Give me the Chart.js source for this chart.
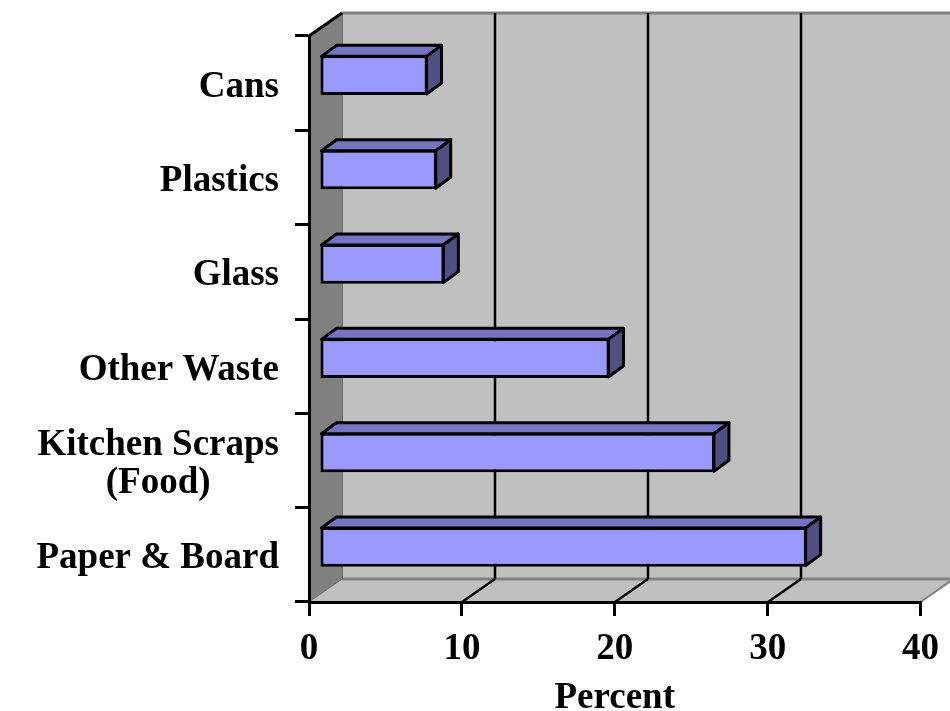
<!DOCTYPE html>
<html>
<head>
<meta charset="utf-8">
<script src="https://cdn.jsdelivr.net/npm/chart.js@4/dist/chart.umd.min.js"></script>
<style>
  html, body { margin: 0; padding: 0; background: #ffffff; }
  #wrap { width: 950px; height: 711px; }
</style>
</head>
<body>
<div id="wrap"><canvas id="c" width="950" height="711"></canvas></div>
<script>
// ---- data ----
const categories = ['Cans', 'Plastics', 'Glass', 'Other Waste', ['Kitchen Scraps', '(Food)'], 'Paper & Board'];
const percentValues = [7.1, 7.7, 8.2, 19.0, 25.9, 31.9];
const xTickValues = [0, 10, 20, 30, 40];
const xAxisTitle = 'Percent';

// ---- 3D look ----
const FONT = '"Liberation Serif", "Times New Roman", serif';
const WALL = { dx: 33, dy: -23 };
const BAR_OFF = { dx: 10, dy: -8 };
const BAR_DEPTH = { dx: 15, dy: -11 };

function poly(ctx, pts) {
  ctx.beginPath();
  ctx.moveTo(pts[0][0], pts[0][1]);
  for (let i = 1; i < pts.length; i++) ctx.lineTo(pts[i][0], pts[i][1]);
  ctx.closePath();
}

const depthPlugin = {
  id: 'depth3d',
  beforeDraw(chart) {
    const { ctx, chartArea: a, scales: { x } } = chart;
    const L = a.left, R = a.right, T = a.top, B = a.bottom;
    ctx.save();
    // back wall
    ctx.fillStyle = '#c0c0c0';
    ctx.fillRect(L + WALL.dx, T + WALL.dy, R - L, B - T);
    // floor
    poly(ctx, [[L, B], [L + WALL.dx, B + WALL.dy], [R + WALL.dx, B + WALL.dy], [R, B]]);
    ctx.fill();
    // left wall
    ctx.fillStyle = '#808080';
    poly(ctx, [[L, T], [L + WALL.dx, T + WALL.dy], [L + WALL.dx, B + WALL.dy], [L, B]]);
    ctx.fill();
    // gray edges
    ctx.strokeStyle = '#808080';
    ctx.lineWidth = 3;
    ctx.beginPath();
    ctx.moveTo(L + WALL.dx, T + WALL.dy); ctx.lineTo(R + WALL.dx, T + WALL.dy);
    ctx.stroke();
    ctx.beginPath();
    ctx.moveTo(L + WALL.dx, B + WALL.dy); ctx.lineTo(R + WALL.dx, B + WALL.dy);
    ctx.stroke();
    ctx.lineWidth = 2;
    ctx.beginPath();
    ctx.moveTo(R, B); ctx.lineTo(R + WALL.dx, B + WALL.dy);
    ctx.stroke();
    ctx.strokeStyle = '#6a6a6a';
    ctx.lineWidth = 1;
    ctx.beginPath();
    ctx.moveTo(L, B); ctx.lineTo(L + WALL.dx, B + WALL.dy);
    ctx.moveTo(L + WALL.dx + 0.5, T + WALL.dy); ctx.lineTo(L + WALL.dx + 0.5, B + WALL.dy);
    ctx.stroke();
    // black top edge of left wall
    ctx.strokeStyle = '#000000';
    ctx.lineWidth = 3;
    ctx.beginPath();
    ctx.moveTo(L, T); ctx.lineTo(L + WALL.dx, T + WALL.dy);
    ctx.stroke();
    // gridlines on back wall and floor
    const min = xTickValues[0], max = xTickValues[xTickValues.length - 1];
    ctx.lineWidth = 2.5;
    xTickValues.forEach(v => {
      if (v === min || v === max) return;
      const px = Math.round(x.getPixelForValue(v));
      ctx.beginPath();
      ctx.moveTo(px + WALL.dx, T + WALL.dy);
      ctx.lineTo(px + WALL.dx, B + WALL.dy);
      ctx.moveTo(px, B);
      ctx.lineTo(px + WALL.dx, B + WALL.dy);
      ctx.stroke();
    });
    ctx.restore();
  },
  beforeDatasetsDraw(chart) {
    chart.ctx.save();
    chart.ctx.translate(BAR_OFF.dx, BAR_OFF.dy);
  },
  afterDatasetsDraw(chart) {
    const ctx = chart.ctx;
    const meta = chart.getDatasetMeta(0);
    ctx.lineWidth = 3;
    ctx.lineJoin = 'round';
    ctx.strokeStyle = '#000000';
    meta.data.forEach(el => {
      const p = el.getProps(['x', 'y', 'base', 'height'], true);
      const left = Math.min(p.base, p.x), right = Math.max(p.base, p.x);
      const top = p.y - p.height / 2, bottom = p.y + p.height / 2;
      const d = BAR_DEPTH;
      poly(ctx, [[left + 1, top + 1], [left + 1 + d.dx, top + 1 + d.dy], [right - 1 + d.dx, top + 1 + d.dy], [right - 1, top + 1]]);
      ctx.fillStyle = '#7474c2';
      ctx.fill(); ctx.stroke();
      poly(ctx, [[right - 1, top + 1], [right - 1 + d.dx, top + 1 + d.dy], [right - 1 + d.dx, bottom - 1 + d.dy], [right - 1, bottom - 1]]);
      ctx.fillStyle = '#4f4f82';
      ctx.fill(); ctx.stroke();
    });
    ctx.restore();
  },
  afterDraw(chart) {
    const { ctx, scales: { y } } = chart;
    ctx.save();
    ctx.font = 'bold 37px ' + FONT;
    ctx.fillStyle = '#000000';
    ctx.textBaseline = 'middle';
    ctx.textAlign = 'center';
    const rightEdge = y.right - 30;
    categories.forEach((lab, i) => {
      const lines = Array.isArray(lab) ? lab : [lab];
      const cy = y.getPixelForValue(i) + 4;
      const bw = Math.max(...lines.map(l => ctx.measureText(l).width));
      const cx = rightEdge - bw / 2;
      lines.forEach((ln, j) => {
        ctx.fillText(ln, cx, cy + (j - (lines.length - 1) / 2) * 38);
      });
    });
    ctx.restore();
  }
};

Chart.defaults.font.family = FONT;
Chart.defaults.color = '#000000';

new Chart(document.getElementById('c'), {
  type: 'bar',
  data: {
    labels: categories,
    datasets: [{
      data: percentValues,
      backgroundColor: '#9999ff',
      borderColor: '#000000',
      borderWidth: 3,
      borderSkipped: false,
      barPercentage: 0.42,
      categoryPercentage: 1.0,
      clip: false
    }]
  },
  options: {
    indexAxis: 'y',
    responsive: false,
    devicePixelRatio: 1,
    animation: false,
    events: [],
    layout: { padding: { top: 36, right: 25, left: 0, bottom: 0 } },
    plugins: { legend: { display: false }, tooltip: { enabled: false }, title: { display: false } },
    scales: {
      x: {
        type: 'linear',
        min: xTickValues[0],
        max: xTickValues[xTickValues.length - 1],
        afterBuildTicks(scale) { scale.ticks = xTickValues.map(v => ({ value: v })); },
        afterFit(scale) { scale.height = 109; },
        grid: { display: true, drawOnChartArea: false, drawTicks: true, tickLength: 14, color: '#000000', lineWidth: 3 },
        border: { display: true, color: '#000000', width: 3 },
        ticks: { font: { size: 37, weight: 'bold', family: FONT }, color: '#000000', padding: 11, maxRotation: 0 },
        title: { display: true, text: xAxisTitle, font: { size: 37, weight: 'bold', family: FONT, lineHeight: 0.7 }, color: '#000000', padding: 0 }
      },
      y: {
        type: 'category',
        afterFit(scale) { scale.width = 309; },
        grid: { display: true, offset: true, drawOnChartArea: false, drawTicks: true, tickLength: 14, color: '#000000', lineWidth: 3 },
        border: { display: true, color: '#000000', width: 3 },
        ticks: { display: false }
      }
    }
  },
  plugins: [depthPlugin]
});
</script>
</body>
</html>
